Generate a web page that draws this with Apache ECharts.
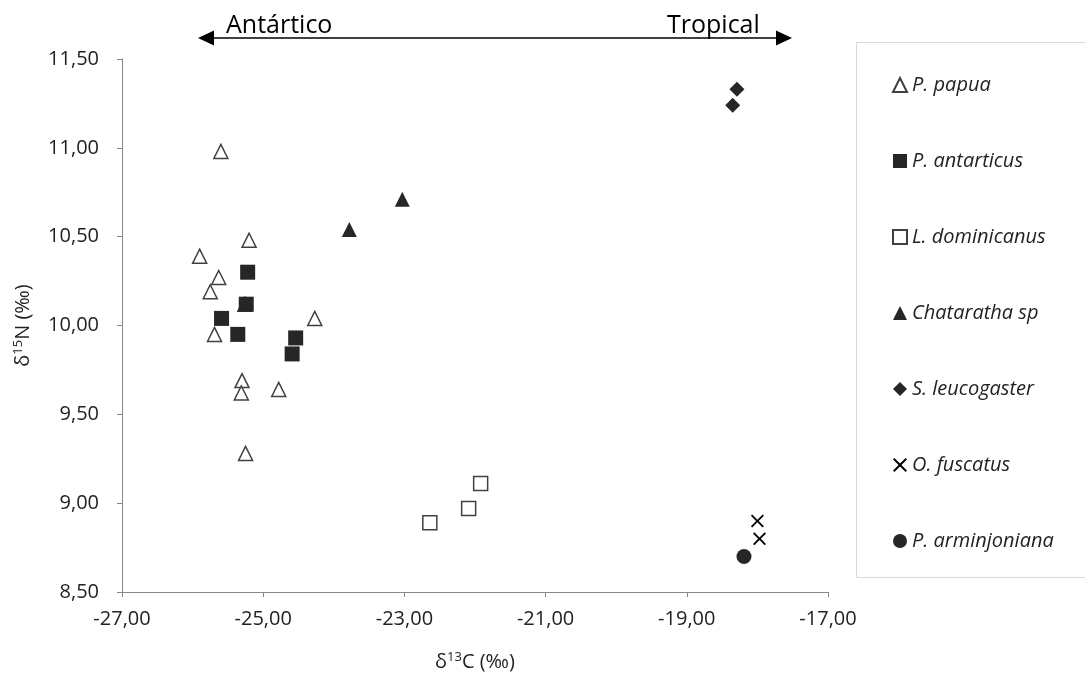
<!DOCTYPE html>
<html>
<head>
<meta charset="utf-8">
<script src="https://cdn.jsdelivr.net/npm/echarts@6/dist/echarts.min.js"></script>
<style>
  html, body { margin: 0; padding: 0; background: #fff; }
  #chart { width: 1085px; height: 677px; }
</style>
</head>
<body>
<div id="chart"></div>
<script>
// [δ13C, δ15N]
const papua = [
  [-25.26, 10.12], [-25.60, 10.98], [-25.20, 10.48], [-25.90, 10.39],
  [-25.63, 10.27], [-25.75, 10.19], [-25.69, 9.95], [-24.27, 10.04],
  [-25.30, 9.69], [-25.31, 9.62], [-24.78, 9.64], [-25.25, 9.28]
];
const antarticus = [
  [-25.22, 10.30], [-25.24, 10.12], [-25.59, 10.04], [-25.36, 9.95],
  [-24.54, 9.93], [-24.59, 9.84]
];
const dominicanus = [[-21.92, 9.11], [-22.09, 8.97], [-22.64, 8.89]];
const chataratha = [[-23.03, 10.71], [-23.78, 10.54]];
const leucogaster = [[-18.29, 11.33], [-18.35, 11.24]];
const fuscatus = [[-18.00, 8.90], [-17.97, 8.80]];
const arminjoniana = [[-18.19, 8.70]];

const seriesNames = ['P. papua', 'P. antarticus', 'L. dominicanus', 'Chataratha sp',
  'S. leucogaster', 'O. fuscatus', 'P. arminjoniana'];

const dark = '#262626';
const crossPath = 'path://M0,1L1,0L5,4L9,0L10,1L6,5L10,9L9,10L5,6L1,10L0,9L4,5Z';
const fmt = v => v.toFixed(2).replace('.', ',');
const nameRich = {
  a: { fontSize: 20, color: '#222', fontFamily: 'Open Sans' },
  s: { fontSize: 13, color: '#222', fontFamily: 'Open Sans', padding: [0, 0, 9, 0] }
};

const myChart = echarts.init(document.getElementById('chart'));

const option = {
  animation: false,
  grid: { left: 122, right: 257, top: 59, bottom: 84 },
  xAxis: {
    type: 'value',
    min: -27, max: -17, interval: 2,
    name: '{a|δ}{s|13}{a|C (‰)}',
    nameLocation: 'middle',
    nameGap: 59,
    nameTextStyle: { rich: nameRich },
    axisLine: { show: true, onZero: false, lineStyle: { color: '#868686', width: 1 } },
    axisTick: { show: true, length: 5, lineStyle: { color: '#868686' } },
    axisLabel: { formatter: fmt, fontSize: 20, color: '#222', fontFamily: 'Open Sans', margin: 17 },
    splitLine: { show: false }
  },
  yAxis: {
    type: 'value',
    min: 8.5, max: 11.5, interval: 0.5,
    name: '{a|δ}{s|15}{a|N (‰)}',
    nameLocation: 'middle',
    nameRotate: 90,
    nameGap: 88,
    nameTextStyle: { rich: nameRich },
    axisLine: { show: true, onZero: false, lineStyle: { color: '#868686', width: 1 } },
    axisTick: { show: true, length: 5, lineStyle: { color: '#868686' } },
    axisLabel: { formatter: fmt, fontSize: 20, color: '#222', fontFamily: 'Open Sans', margin: 23 },
    splitLine: { show: false }
  },
  legend: {
    orient: 'vertical',
    left: 887, top: 70,
    itemGap: 56,
    itemWidth: 14, itemHeight: 14,
    data: seriesNames,
    textStyle: { fontSize: 20, fontStyle: 'italic', color: '#222', fontFamily: 'Open Sans' }
  },
  graphic: [
    // legend frame
    { type: 'rect', shape: { x: 856.5, y: 42.5, width: 240, height: 535 },
      style: { fill: 'none', stroke: '#d9d9d9', lineWidth: 1 }, z: -1 },
    // Antártico <-> Tropical arrow
    { type: 'line', shape: { x1: 210, y1: 38, x2: 780, y2: 38 }, style: { stroke: '#000', lineWidth: 1.5 } },
    { type: 'polygon', shape: { points: [[198, 38], [214, 30.5], [214, 45.5]] }, style: { fill: '#000' } },
    { type: 'polygon', shape: { points: [[792, 38], [776, 30.5], [776, 45.5]] }, style: { fill: '#000' } },
    { type: 'text', left: 226, top: 13, style: { text: 'Antártico', font: '25px "Open Sans"', fill: '#000' } },
    { type: 'text', left: 667, top: 13, style: { text: 'Tropical', font: '25px "Open Sans"', fill: '#000' } }
  ],
  series: [
    { name: seriesNames[0], type: 'scatter', data: papua, symbol: 'triangle', symbolSize: 14,
      itemStyle: { color: '#fff', borderColor: '#404040', borderWidth: 1.5, opacity: 1 } },
    { name: seriesNames[1], type: 'scatter', data: antarticus, symbol: 'rect', symbolSize: 15,
      itemStyle: { color: dark, opacity: 1 } },
    { name: seriesNames[2], type: 'scatter', data: dominicanus, symbol: 'rect', symbolSize: 14,
      itemStyle: { color: '#fff', borderColor: '#404040', borderWidth: 1.5, opacity: 1 } },
    { name: seriesNames[3], type: 'scatter', data: chataratha, symbol: 'triangle', symbolSize: 15,
      itemStyle: { color: dark, opacity: 1 } },
    { name: seriesNames[4], type: 'scatter', data: leucogaster, symbol: 'diamond', symbolSize: 15,
      itemStyle: { color: dark, opacity: 1 } },
    { name: seriesNames[5], type: 'scatter', data: fuscatus, symbol: crossPath, symbolSize: 13,
      itemStyle: { color: '#000', opacity: 1 } },
    { name: seriesNames[6], type: 'scatter', data: arminjoniana, symbol: 'circle', symbolSize: 15,
      itemStyle: { color: dark, opacity: 1 } }
  ]
};

myChart.setOption(option);
</script>
</body>
</html>
